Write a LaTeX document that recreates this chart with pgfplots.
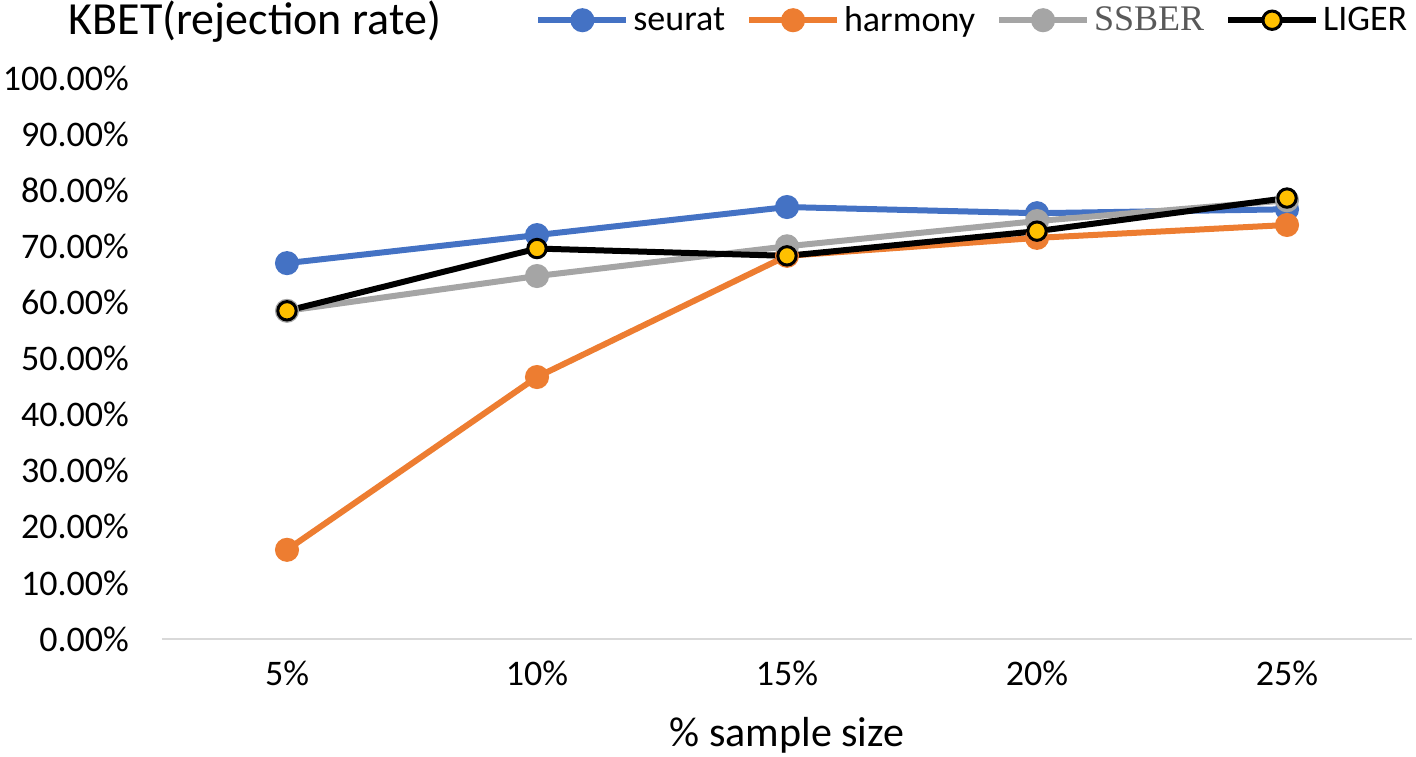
\documentclass[border=0pt]{standalone}
\usepackage{pgfplots}
\pgfplotsset{compat=1.18}
\usepackage{fontspec}
\setmainfont{Carlito}
\newfontfamily\serifleg{Liberation Serif}
\definecolor{cseurat}{HTML}{4472C4}
\definecolor{charmony}{HTML}{ED7D31}
\definecolor{cssber}{HTML}{A5A5A5}
\definecolor{cliger}{HTML}{FFC000}
\begin{document}
\begin{tikzpicture}
\begin{axis}[
  at={(0,0)}, anchor=south west,
  scale only axis, width=625pt, height=280.5pt,
  xmin=0.5, xmax=5.5, ymin=0, ymax=100,
  xtick={1,2,3,4,5},
  xticklabels={5\%,10\%,15\%,20\%,25\%},
  ytick={0,10,...,100},
  yticklabel={\pgfmathprintnumber[fixed,fixed zerofill,precision=2]{\tick}\%},
  /pgf/number format/assume math mode=true,
  axis line style={draw=none},
  major tick length=0pt,
  tick label style={font=\fontsize{18}{20}\selectfont, text=black},
  yticklabel style={xshift=-13pt},
  xticklabel style={yshift=-7.5pt},
  xlabel={\% sample size},
  xlabel style={font=\fontsize{21}{24}\selectfont, text=black, at={(axis description cs:0.5,0)}, anchor=center, yshift=-48pt},
  clip=false,
  legend columns=4,
  legend style={draw=none, fill=none, at={(axis description cs:0.2984,1.103)}, anchor=west,
    font=\fontsize{18}{20}\selectfont, inner sep=0pt,
    /tikz/every odd column/.append style={column sep=0pt},
    /tikz/every even column/.append style={column sep=8.5pt}},
  every legend entry/.append style={inner xsep=2pt},
  legend cell align=left,
  legend image code/.code={\draw[mark repeat=2,mark phase=2,#1] plot coordinates {(0pt,0pt) (22pt,0pt) (44pt,0pt)};},
]
\draw[black!15, line width=1.2pt] (axis cs:0.5,0) -- (axis cs:5.5,0);
\addplot[cseurat, line width=3pt, mark=*, mark size=4.5pt, mark options={fill=cseurat, draw=cseurat}]
  coordinates {(1,67.0) (2,72.0) (3,77.0) (4,75.9) (5,76.6)};
\addlegendentry{seurat}
\addplot[charmony, line width=3pt, mark=*, mark size=4.5pt, mark options={fill=charmony, draw=charmony}]
  coordinates {(1,15.9) (2,46.7) (3,68.3) (4,71.5) (5,73.8)};
\addlegendentry{harmony}
\addplot[cssber, line width=3pt, mark=*, mark size=4.5pt, mark options={fill=cssber, draw=cssber}]
  coordinates {(1,58.5) (2,64.7) (3,70.0) (4,74.5) (5,78.2)};
\addlegendentry{{\serifleg\color{black!65}SSBER}}
\addplot[black, line width=3pt, mark=*, mark size=4.6pt, mark options={fill=cliger, draw=black, line width=1.5pt}]
  coordinates {(1,58.5) (2,69.6) (3,68.3) (4,72.7) (5,78.6)};
\addlegendentry{LIGER}
\node[anchor=west, font=\fontsize{23}{27}\selectfont, text=black, inner sep=0pt] at (axis description cs:-0.075,1.1) {KBET(rejection rate)};
\end{axis}
\pgfresetboundingbox
\path[use as bounding box] (-81pt,-58.5pt) rectangle (627pt,319.5pt);
\end{tikzpicture}
\end{document}
